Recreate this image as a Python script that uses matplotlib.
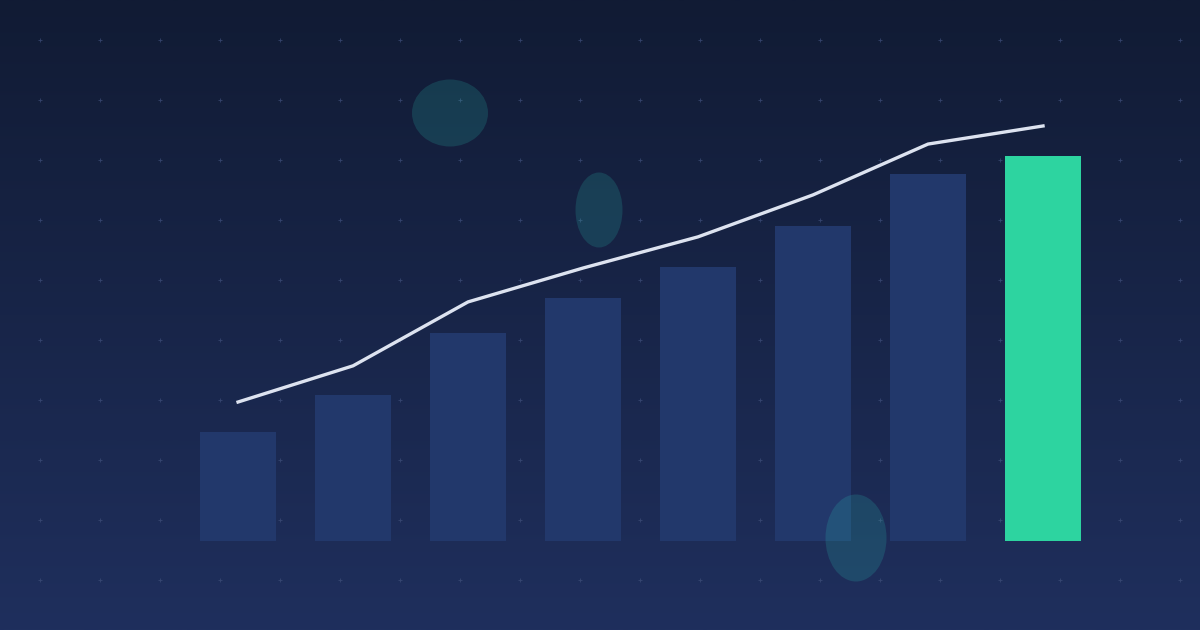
import matplotlib
matplotlib.use("Agg")
import matplotlib.pyplot as plt
from matplotlib.patches import Ellipse
import numpy as np

# ── data ──────────────────────────────────────────────────────────────────────
periods = ["P1", "P2", "P3", "P4", "P5", "P6", "P7", "P8"]
bar_values = [28.3, 37.9, 54.0, 63.1, 71.2, 81.8, 95.3, 100.0]
trend_values = [36.1, 45.5, 62.1, 70.9, 79.0, 89.9, 103.1, 107.8]

# decorative blobs (pixel centre x, centre y, width, height)
blob_x = [450, 599, 856]
blob_y = [113, 210, 538]
blob_w = [76, 47, 61]
blob_h = [67, 75, 87]

COLORS = {
    "bg_top": "#111b34",
    "bg_bottom": "#1f2f5d",
    "bar": "#22386b",
    "highlight": "#2dd4a0",
    "line": "#dde3f0",
    "dot": "#3d4d78",
    "blob": "#2dd4bf",
}

W, H = 1200, 630
fig = plt.figure(figsize=(12, 6.3), dpi=100)

# ── background: gradient + dot grid ───────────────────────────────────────────
bg = fig.add_axes([0, 0, 1, 1])
bg.set_xlim(0, W)
bg.set_ylim(H, 0)
bg.axis("off")
top = np.array(matplotlib.colors.to_rgb(COLORS["bg_top"]))
bot = np.array(matplotlib.colors.to_rgb(COLORS["bg_bottom"]))
t = np.linspace(0, 1, 256)[:, None]
grad = (top * (1 - t) + bot * t)[:, None, :]
bg.imshow(grad, extent=[0, W, H, 0], aspect="auto", interpolation="bilinear")
gx, gy = np.meshgrid(np.arange(40, W, 60), np.arange(40, H, 60))
bg.scatter(gx.ravel(), gy.ravel(), marker="+", s=9, linewidths=0.6,
           color=COLORS["dot"], alpha=0.8)

# ── main chart ────────────────────────────────────────────────────────────────
ax = fig.add_axes([0, 0, 1, 1])
ax.patch.set_alpha(0)
ax.axis("off")
x = np.arange(len(periods))
colors = [COLORS["bar"]] * (len(periods) - 1) + [COLORS["highlight"]]
ax.bar(x, bar_values, width=0.661, color=colors, zorder=2)
ax.plot(x, trend_values, color=COLORS["line"], linewidth=2.4,
        solid_joinstyle="miter", zorder=3)
ax.set_xlim(-2.07, 8.365)
ax.set_ylim(-23.12, 140.52)

# ── translucent blobs on top ──────────────────────────────────────────────────
deco = fig.add_axes([0, 0, 1, 1])
deco.patch.set_alpha(0)
deco.set_xlim(0, W)
deco.set_ylim(H, 0)
deco.axis("off")
for bx, by, bw, bh in zip(blob_x, blob_y, blob_w, blob_h):
    deco.add_patch(Ellipse((bx, by), bw, bh, color=COLORS["blob"],
                           alpha=0.17, linewidth=0))

fig.savefig("out.png", dpi=100)
